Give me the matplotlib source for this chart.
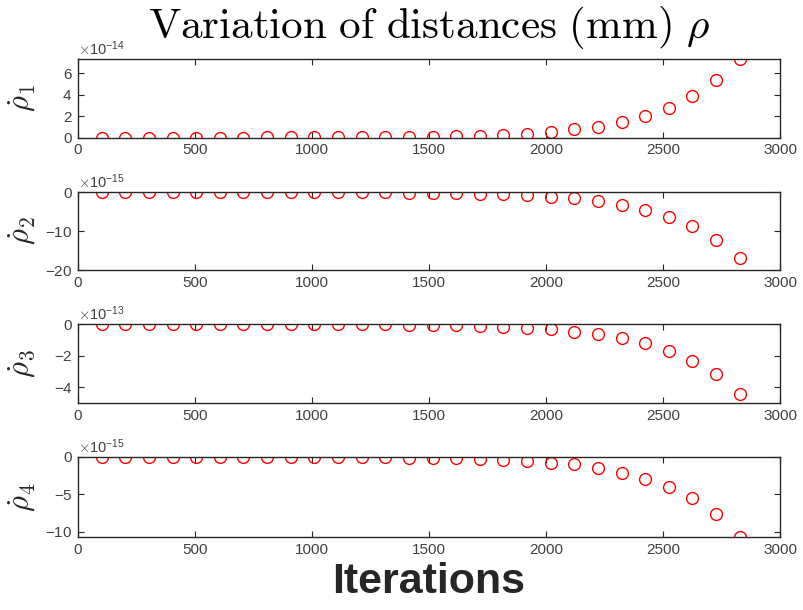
import numpy as np
import matplotlib
matplotlib.use("Agg")
import matplotlib.pyplot as plt
from matplotlib.ticker import ScalarFormatter

plt.rcParams['font.family'] = ['Liberation Sans', 'DejaVu Sans']
plt.rcParams['mathtext.fontset'] = 'cm'
plt.rcParams['axes.unicode_minus'] = False

# iterations (every 101 steps)
iters = [101, 202, 303, 404, 505, 606, 707, 808, 909, 1010, 1111, 1212, 1313, 1414,
         1515, 1616, 1717, 1818, 1919, 2020, 2121, 2222, 2323, 2424, 2525, 2626, 2727, 2828]

# derivative of the distances
rho1 = [0.0, 0.0, 0.0, 0.0, 0.0, 0.0, 0.0, 0.01, 0.01, 0.01, 0.02, 0.03, 0.04, 0.05,
        0.07, 0.1, 0.15, 0.22, 0.31, 0.5, 0.77, 1.02, 1.42, 1.97, 2.77, 3.85, 5.33, 7.33]
rho2 = [0.0, 0.0, 0.0, 0.0, 0.0, 0.0, 0.0, 0.0, 0.0, 0.0, -0.05, -0.08, -0.1, -0.15,
        -0.25, -0.3, -0.45, -0.6, -0.8, -1.4, -1.6, -2.4, -3.4, -4.6, -6.3, -8.8, -12.3, -16.9]
rho3 = [0.0, 0.0, 0.0, 0.0, 0.0, 0.0, 0.0, 0.0, 0.0, -0.01, -0.01, -0.02, -0.03, -0.04,
        -0.06, -0.09, -0.13, -0.19, -0.26, -0.34, -0.48, -0.65, -0.9, -1.22, -1.68, -2.34, -3.16, -4.4]
rho4 = [0.0, 0.0, 0.0, 0.0, 0.0, 0.0, 0.0, 0.0, 0.0, 0.0, -0.02, -0.03, -0.05, -0.08,
        -0.1, -0.18, -0.26, -0.35, -0.6, -0.85, -1.0, -1.53, -2.14, -2.93, -4.06, -5.55, -7.65, -10.7]

series = [rho1, rho2, rho3, rho4]
exps = [-14, -15, -13, -15]
yticks = [[0, 2, 4, 6], [-20, -10, 0], [-4, -2, 0], [-10, -5, 0]]
labels = [r'$\dot{\rho}_1$', r'$\dot{\rho}_2$', r'$\dot{\rho}_3$', r'$\dot{\rho}_4$']

W, H = 804, 610
fig = plt.figure(figsize=(W / 100, H / 100), dpi=100)
tops = [59, 192, 324, 457]
bots = [137.5, 270, 403, 537]
left, right = 78, 780
gray = '#262626'

for i in range(4):
    ax = fig.add_axes([left / W, 1 - bots[i] / H, (right - left) / W, (bots[i] - tops[i]) / H])
    sc = 10.0 ** exps[i]
    y = np.array(series[i]) * sc
    ax.plot(iters, y, 'o', mfc='none', mec='red', ms=8.5, mew=1.0)
    ax.set_xlim(0, 3000)
    ax.set_xticks(range(0, 3001, 500))
    ax.set_yticks(np.array(yticks[i]) * sc)
    if i == 0:
        ax.set_ylim(0, max(y))
    elif i == 1:
        ax.set_ylim(-20 * sc, 0)
    elif i == 2:
        ax.set_ylim(-5 * sc, 0)
    else:
        ax.set_ylim(min(y), 0)
    fmt = ScalarFormatter(useMathText=True)
    fmt.set_powerlimits((exps[i], exps[i]))
    ax.yaxis.set_major_formatter(fmt)
    ax.yaxis.get_offset_text().set_fontsize(10.5)
    ax.yaxis.get_offset_text().set_color('#404040')
    ax.tick_params(direction='in', top=True, right=True, length=4, width=0.8,
                   labelsize=11, colors=gray, labelcolor='#404040', pad=4)
    for s in ax.spines.values():
        s.set_color(gray)
        s.set_linewidth(1.0)
    ax.set_ylabel(labels[i], fontsize=22, color=gray)
    ax.yaxis.set_label_coords(-40 / (right - left), 0.5)
    if i == 0:
        ax.set_title(r'$\mathrm{Variation\ of\ distances\ (mm)}\ \rho$', fontsize=31,
                     color='black', pad=15)
    if i == 3:
        ax.set_xlabel('Iterations', fontsize=31, fontweight='bold', color=gray, labelpad=4)

fig.savefig('out.png', dpi=100)
